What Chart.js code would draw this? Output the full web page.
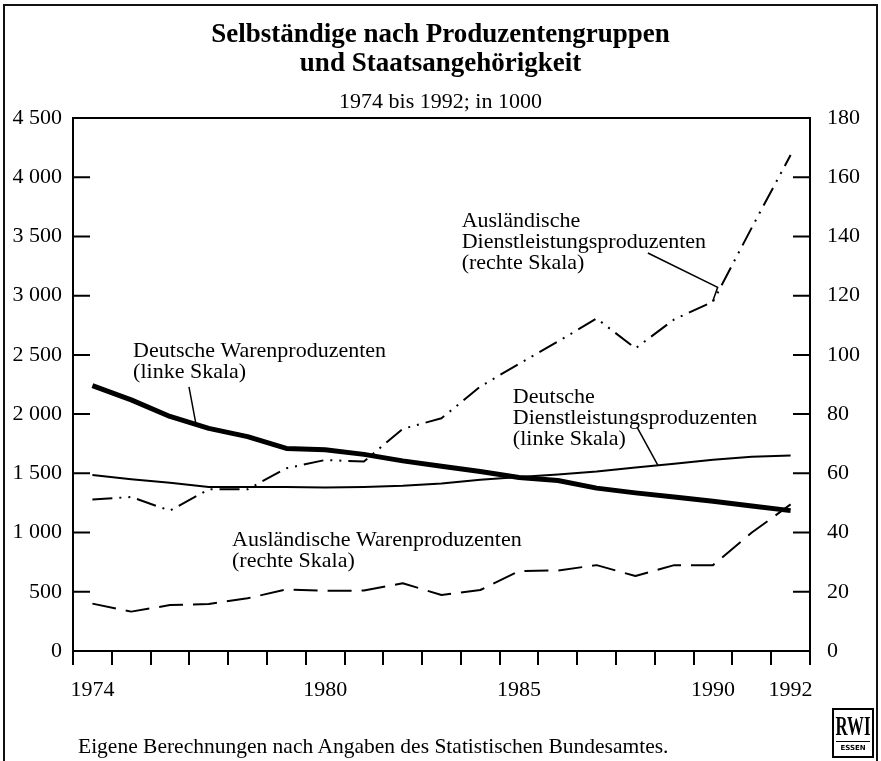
<!DOCTYPE html>
<html lang="de">
<head>
  <meta charset="UTF-8" />
  <title>Selbständige nach Produzentengruppen und Staatsangehörigkeit</title>
  <script src="https://cdn.jsdelivr.net/npm/chart.js"></script>
  <style>
    body { margin: 0; background: #fff; color: #000; font-family: "Liberation Serif", "DejaVu Serif", serif; }
    .page { position: relative; width: 881px; height: 761px; overflow: hidden; background: #fff; }
    .frame { position: absolute; left: 3px; top: 4px; width: 875px; height: 780px; border: 2px solid #111; box-sizing: border-box; }
    .chart-box { position: absolute; left: 0; top: 0; width: 881px; height: 761px; }
    .title { position: absolute; left: 0; top: 19px; width: 881px; margin: 0; text-align: center; font-size: 27px; line-height: 29px; font-weight: bold; }
    .subtitle { position: absolute; left: 0; top: 89px; width: 881px; text-align: center; font-size: 22px; line-height: 24px; }
    .source { position: absolute; left: 78px; top: 734px; font-size: 21.5px; line-height: 24px; }
    .logo { position: absolute; left: 832px; top: 708px; width: 42px; height: 50px; border: 2px solid #000; box-sizing: border-box; overflow: hidden; }
    .logo .rwi { width: 60px; margin-left: -11px; text-align: center; white-space: nowrap; font-size: 28px; font-weight: bold; line-height: 30px; transform: scaleX(0.6); transform-origin: center; margin-top: 1px; }
    .logo .essen { font-size: 7px; font-weight: bold; line-height: 12px; text-align: center; font-family: "DejaVu Sans", sans-serif; border-top: 1px solid #000; margin: 0 2px; }
  </style>
</head>

<body>
  <div class="page">
    <div class="chart-box"><canvas id="chart"></canvas></div>
    <div class="frame"></div>
    <h1 class="title">Selbständige nach Produzentengruppen<br>und Staatsangehörigkeit</h1>
    <div class="subtitle">1974 bis 1992; in 1000</div>
    <div class="source">Eigene Berechnungen nach Angaben des Statistischen Bundesamtes.</div>
    <div class="logo"><div class="rwi">RWI</div><div class="essen">ESSEN</div></div>
  </div>

  <script>
    // Jahre und Beschriftungen der x-Achse
    const years = ["1974", "1975", "1976", "1977", "1978", "1979", "1980", "1981", "1982", "1983",
                   "1984", "1985", "1986", "1987", "1988", "1989", "1990", "1991", "1992"];
    const shownYears = ["1974", "1980", "1985", "1990", "1992"];

    // linke Skala (in 1000)
    const deutscheWaren = [2240, 2120, 1980, 1880, 1810, 1710, 1700, 1660, 1605, 1560,
                           1515, 1465, 1440, 1375, 1335, 1300, 1265, 1225, 1185];
    const deutscheDienst = [1485, 1450, 1420, 1385, 1385, 1385, 1380, 1385, 1395, 1415,
                            1445, 1470, 1490, 1515, 1550, 1580, 1615, 1640, 1650];

    // rechte Skala (in 1000)
    const auslWaren = [16, 13.3, 15.5, 15.9, 17.8, 20.8, 20.3, 20.4, 22.9, 18.9,
                       20.6, 27, 27.2, 29, 25.3, 29, 29, 40, 49.5];
    const auslDienst = [51.2, 52, 47.4, 54.6, 54.6, 61.7, 64.5, 64, 75, 78.6,
                        89.3, 97, 104.5, 112.3, 102.2, 112, 118, 143, 167.5];

    // Achsen
    const leftMax = 4500, leftStep = 500;
    const rightMax = 180, rightStep = 20;

    // Beschriftungen im Diagramm (x = Jahresindex, y = Wert linke Skala)
    const notes = [
      { lines: ["Deutsche Warenproduzenten", "(linke Skala)"], at: [1.05, 2480],
        leader: [[2.49, 2230], [2.67, 1915]] },
      { lines: ["Ausländische", "Dienstleistungsproduzenten", "(rechte Skala)"], at: [9.52, 3580],
        leader: [[14.32, 3360], [16.12, 3070], [15.99, 2950]] },
      { lines: ["Deutsche", "Dienstleistungsproduzenten", "(linke Skala)"], at: [10.84, 2095],
        leader: [[14.04, 1890], [14.58, 1567]] },
      { lines: ["Ausländische Warenproduzenten", "(rechte Skala)"], at: [3.6, 887], leader: [] }
    ];

    const serif = '"Liberation Serif", "DejaVu Serif", serif';

    function germanNumber(v) {
      return String(v).replace(/\B(?=(\d{3})+(?!\d))/g, " ");
    }

    // Rahmen, nach innen zeigende Striche an den y-Achsen und Texte
    const decorations = {
      id: "decorations",
      afterDraw(chart) {
        const { ctx, chartArea: a, scales } = chart;
        ctx.save();
        ctx.strokeStyle = "#000";
        ctx.lineWidth = 2;
        ctx.strokeRect(a.left, a.top, a.right - a.left, a.bottom - a.top);

        ctx.beginPath();
        scales.yL.ticks.forEach(t => {
          const y = scales.yL.getPixelForValue(t.value);
          ctx.moveTo(a.left, y);
          ctx.lineTo(a.left + 17, y);
        });
        scales.yR.ticks.forEach(t => {
          const y = scales.yR.getPixelForValue(t.value);
          ctx.moveTo(a.right - 17, y);
          ctx.lineTo(a.right, y);
        });
        ctx.stroke();

        ctx.fillStyle = "#000";
        ctx.font = "22px " + serif;
        ctx.textBaseline = "alphabetic";
        ctx.textAlign = "left";
        ctx.lineWidth = 1.5;
        notes.forEach(n => {
          const x = scales.x.getPixelForValue(n.at[0]);
          const y = scales.yL.getPixelForValue(n.at[1]);
          n.lines.forEach((line, i) => ctx.fillText(line, x, y + i * 21));
          if (n.leader.length) {
            ctx.beginPath();
            n.leader.forEach((p, i) => {
              const px = scales.x.getPixelForValue(p[0]);
              const py = scales.yL.getPixelForValue(p[1]);
              if (i === 0) ctx.moveTo(px, py); else ctx.lineTo(px, py);
            });
            ctx.stroke();
          }
        });
        ctx.restore();
      }
    };

    const line = (data, axis, width, dash) => ({
      data: data,
      yAxisID: axis,
      borderColor: "#000",
      borderWidth: width,
      borderDash: dash,
      borderCapStyle: "butt",
      borderJoinStyle: "round",
      pointRadius: 0,
      tension: 0,
      fill: false
    });

    new Chart(document.getElementById("chart").getContext("2d"), {
      type: "line",
      data: {
        labels: years,
        datasets: [
          line(auslWaren, "yR", 2, [24, 10]),
          line(auslDienst, "yR", 2, [20, 7, 2, 7, 2, 7]),
          line(deutscheDienst, "yL", 2, []),
          line(deutscheWaren, "yL", 5, [])
        ]
      },
      options: {
        responsive: true,
        maintainAspectRatio: false,
        animation: false,
        layout: { padding: { top: 118, left: 0, right: 0, bottom: 0 } },
        plugins: { legend: { display: false }, tooltip: { enabled: false } },
        scales: {
          x: {
            offset: true,
            grid: { display: true, drawOnChartArea: false, offset: true, tickLength: 14, color: "#000", lineWidth: 2 },
            border: { display: false },
            ticks: {
              autoSkip: false,
              maxRotation: 0,
              padding: 12,
              color: "#000",
              font: { family: serif, size: 22 },
              callback: function (v) {
                const label = this.getLabelForValue(v);
                return shownYears.includes(label) ? label : "";
              }
            },
            afterFit: s => { s.height = 110; }
          },
          yL: {
            position: "left",
            min: 0,
            max: leftMax,
            grid: { display: false, drawTicks: false },
            border: { display: false },
            ticks: {
              stepSize: leftStep,
              padding: 11,
              color: "#000",
              font: { family: serif, size: 22 },
              callback: v => germanNumber(v)
            },
            afterFit: s => { s.width = 73; }
          },
          yR: {
            position: "right",
            min: 0,
            max: rightMax,
            grid: { display: false, drawTicks: false },
            border: { display: false },
            ticks: {
              stepSize: rightStep,
              padding: 17,
              color: "#000",
              font: { family: serif, size: 22 }
            },
            afterFit: s => { s.width = 71; }
          }
        }
      },
      plugins: [decorations]
    });
  </script>
</body>
</html>
